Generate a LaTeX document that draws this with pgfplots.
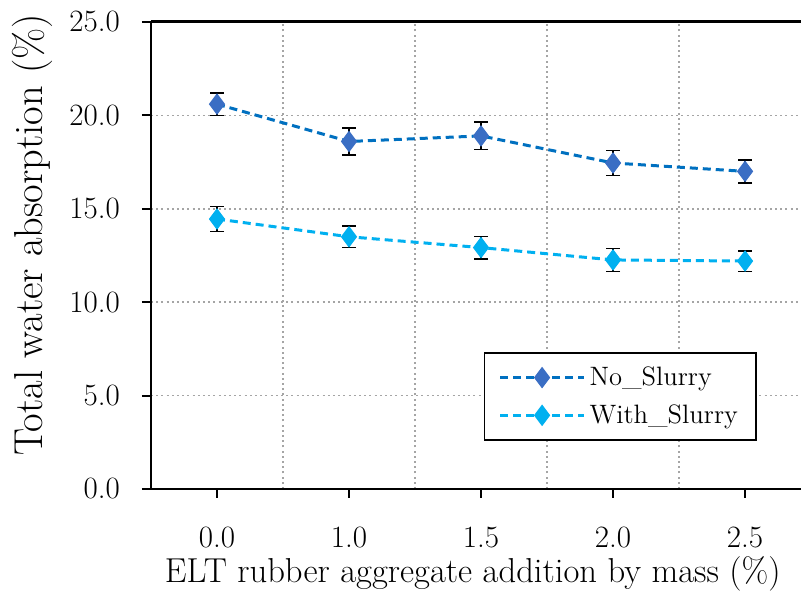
\documentclass[border=0pt]{standalone}
\usepackage{pgfplots}
\pgfplotsset{compat=1.18}
\definecolor{noS}{RGB}{0,112,192}
\definecolor{noSm}{RGB}{58,110,196}
\definecolor{wS}{RGB}{0,176,240}
\definecolor{gridc}{RGB}{165,165,165}
\begin{document}
\begin{tikzpicture}
\begin{axis}[
  scale only axis, width=325pt, height=233.5pt,
  xmin=-0.5, xmax=4.424, ymin=0, ymax=25,
  axis lines=left, axis line style={-, line width=1.1pt, black},
  xtick={0,1,2,3,4}, xticklabels={0.0,1.0,1.5,2.0,2.5},
  ytick={0,5,10,15,20,25}, yticklabels={0.0,5.0,10.0,15.0,20.0,25.0},
  tick align=outside, major tick length=4.5pt, tick style={black, line width=1pt},
  minor xtick={0.5,1.5,2.5,3.5}, minor tick length=0pt,
  ymajorgrids, xminorgrids,
  major grid style={gridc, line width=0.8pt, dash pattern=on 1pt off 1.6pt},
  minor grid style={gridc, line width=0.8pt, dash pattern=on 1pt off 1.6pt},
  tick label style={font=\fontsize{15.5}{18}\selectfont},
  xticklabel style={yshift=-11pt},
  yticklabel style={xshift=-7.5pt},
  xlabel={ELT rubber aggregate addition by mass (\%)},
  xlabel style={font=\fontsize{17.3}{20}\selectfont, at={(axis description cs:0.495,-0.182)}, anchor=center},
  ylabel={Total water absorption (\%)},
  ylabel style={font=\fontsize{20.2}{23}\selectfont, at={(axis description cs:-0.183,0.544)}, anchor=center},
  legend style={at={(axis description cs:0.512,0.2934)}, anchor=north west, draw=black, line width=0.8pt,
    font=\fontsize{13.3}{16}\selectfont, inner xsep=7pt, inner ysep=5pt, row sep=4pt, fill=white},
  legend cell align=left,
  legend image code/.code={\draw[mark repeat=2, mark phase=2, #1] plot coordinates {(0pt,0pt) (21pt,0pt) (42pt,0pt)};},
  clip=false,
]
\addplot+[noS, line width=1.5pt, dash pattern=on 4pt off 2.5pt,
  mark=diamond*, mark size=5pt, mark options={solid, fill=noSm, draw=noSm, line width=0.5pt},
  error bars/.cd, y dir=both, y explicit,
  error bar style={black, solid, line width=0.8pt},
  error mark options={rotate=90, mark size=3.5pt, black, solid, line width=0.8pt}]
  coordinates {
  (0,20.6) +- (0,0.6)
  (1,18.6) +- (0,0.71)
  (2,18.9) +- (0,0.73)
  (3,17.45) +- (0,0.67)
  (4,17.0) +- (0,0.62)
  };
\addlegendentry{No\_Slurry}
\addplot+[wS, line width=1.5pt, dash pattern=on 4pt off 2.5pt,
  mark=diamond*, mark size=5pt, mark options={solid, fill=wS, draw=wS, line width=0.5pt},
  error bars/.cd, y dir=both, y explicit,
  error bar style={black, solid, line width=0.8pt},
  error mark options={rotate=90, mark size=3.5pt, black, solid, line width=0.8pt}]
  coordinates {
  (0,14.45) +- (0,0.67)
  (1,13.5) +- (0,0.58)
  (2,12.92) +- (0,0.6)
  (3,12.26) +- (0,0.62)
  (4,12.2) +- (0,0.55)
  };
\addlegendentry{With\_Slurry}
\draw[line width=1.5pt, black] (rel axis cs:0,1) -- (rel axis cs:1,1);
\coordinate (bl) at (axis description cs:-0.2323,-0.2291);
\coordinate (tr) at (axis description cs:1,1.047);
\end{axis}
\pgfresetboundingbox
\path (bl) rectangle (tr);
\end{tikzpicture}
\end{document}
